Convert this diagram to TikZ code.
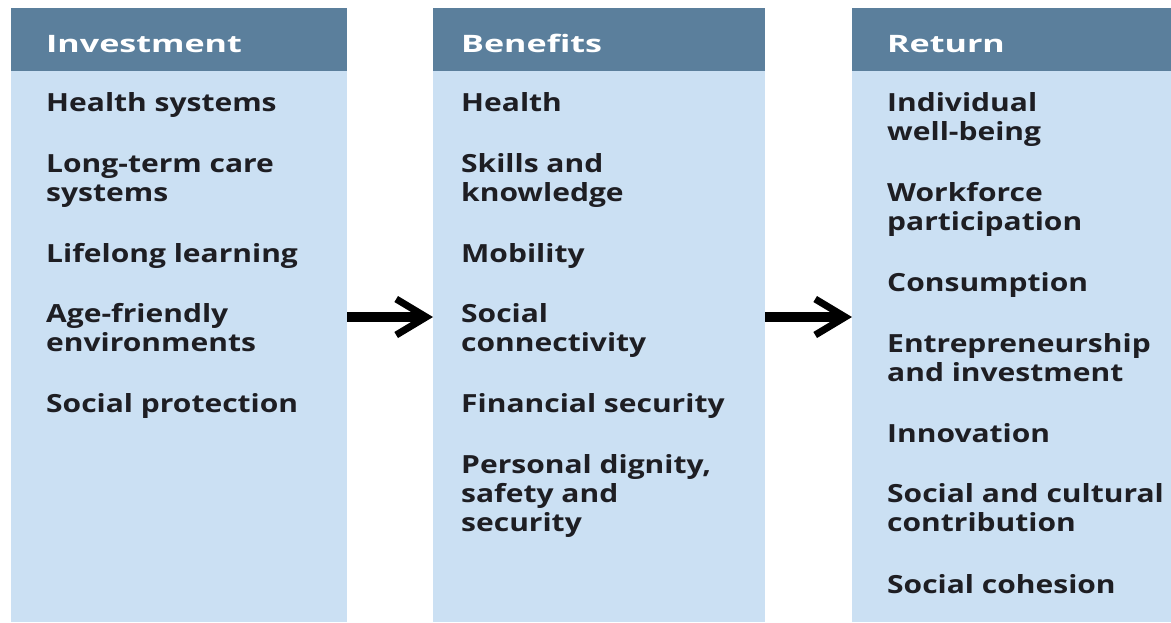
\documentclass[tikz,border=0pt]{standalone}
\usepackage{fontspec}
\setmainfont[FakeStretch=1.2]{Open Sans}
\newfontfamily\headfont[FakeStretch=1.42]{Open Sans}
\usetikzlibrary{arrows.meta}
\definecolor{headblue}{RGB}{91,127,156}
\definecolor{bodyblue}{RGB}{203,224,243}
\definecolor{txt}{RGB}{30,30,35}
\tikzset{
  colbody/.style={fill=bodyblue, draw=none, inner sep=0pt, anchor=north west, minimum height=551pt},
  colhead/.style={fill=headblue, draw=none, inner sep=0pt, anchor=north west, minimum height=63pt},
  headtext/.style={anchor=base west, inner sep=0pt, text=white, font=\headfont\fontsize{24}{29}\selectfont\bfseries},
  item/.style={anchor=base west, inner sep=0pt, align=left, text=txt, font=\fontsize{25}{29}\selectfont\bfseries},
  bigarrow/.style={line width=10pt, -{Straight Barb[length=30pt,width=36pt,line width=7pt]}}
}
\begin{document}
\begin{tikzpicture}[x=1pt,y=-1pt]
\useasboundingbox (0,0) rectangle (1171,622);
% columns
\node[colbody, minimum width=336pt] (b1) at (11,71) {};
\node[colhead, minimum width=336pt] (h1) at (11,8) {};
\node[colbody, minimum width=332pt] (b2) at (433,71) {};
\node[colhead, minimum width=332pt] (h2) at (433,8) {};
\node[colbody, minimum width=319pt] (b3) at (852,71) {};
\node[colhead, minimum width=319pt] (h3) at (852,8) {};
% headers
\node[headtext] (t1) at (46,52) {Investment};
\node[headtext] (t2) at (461,52) {Benefits};
\node[headtext] (t3) at (887,52) {Return};
% column 1 (positions are the baseline of the last line)
\node[item] (i11) at (46,111) {Health systems};
\node[item] (i12) at (46,201) {Long-term care\\systems};
\node[item] (i13) at (46,262) {Lifelong learning};
\node[item] (i14) at (46,351) {Age-friendly\\environments};
\node[item] (i15) at (46,412) {Social protection};
% column 2
\node[item] (i21) at (461,111) {Health};
\node[item] (i22) at (461,201) {Skills and\\knowledge};
\node[item] (i23) at (461,262) {Mobility};
\node[item] (i24) at (461,351) {Social\\connectivity};
\node[item] (i25) at (461,412) {Financial security};
\node[item] (i26) at (461,531) {Personal dignity,\\safety and\\security};
% column 3
\node[item] (i31) at (887,140) {Individual\\well-being};
\node[item] (i32) at (887,230) {Workforce\\participation};
\node[item] (i33) at (887,291) {Consumption};
\node[item] (i34) at (887,381) {Entrepreneurship\\and investment};
\node[item] (i35) at (887,442) {Innovation};
\node[item] (i36) at (887,531) {Social and cultural\\contribution};
\node[item] (i37) at (887,593) {Social cohesion};
% arrows
\coordinate (arow) at (0,317);
\draw[bigarrow] (b1.east |- arow) -- (b2.west |- arow);
\draw[bigarrow] (b2.east |- arow) -- (b3.west |- arow);
\end{tikzpicture}
\end{document}
